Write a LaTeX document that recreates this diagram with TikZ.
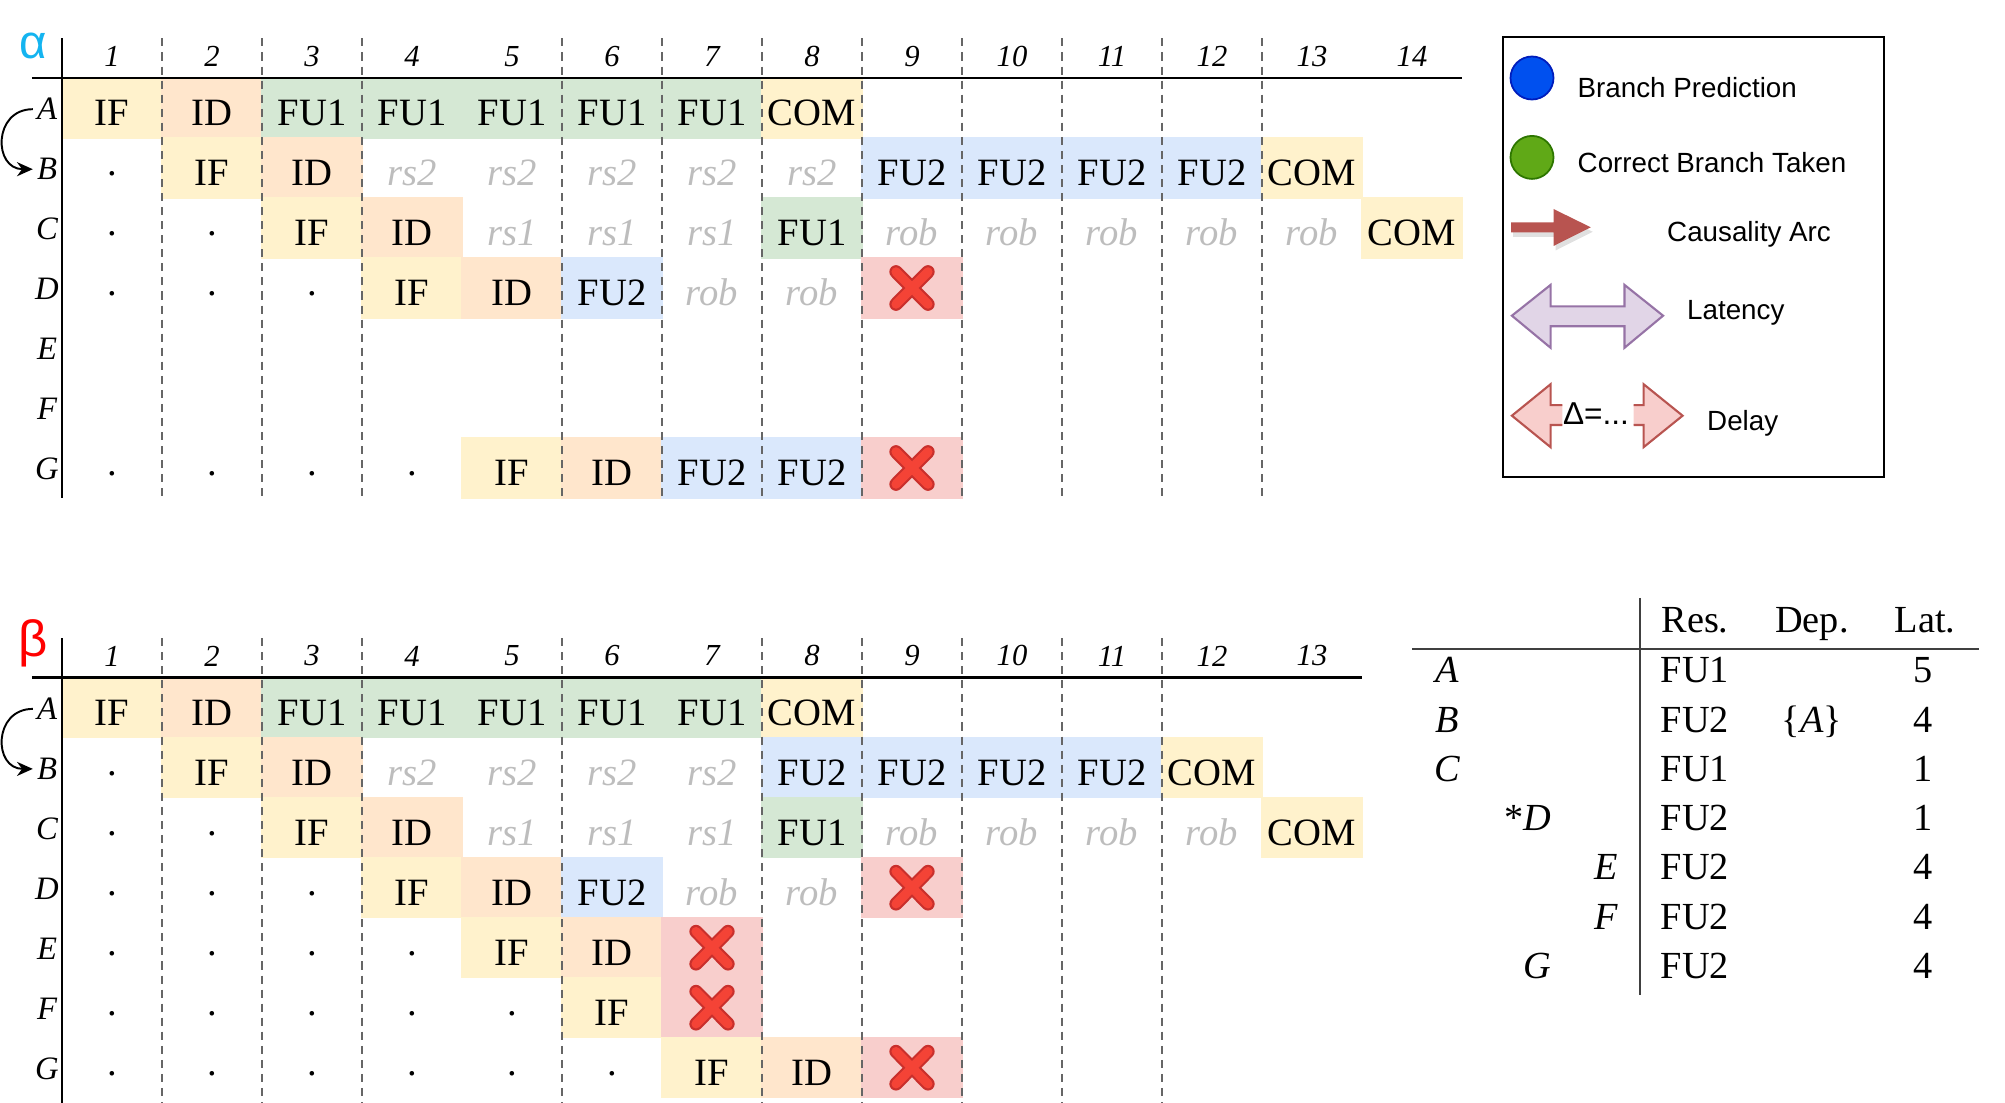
\documentclass[tikz,border=0pt]{standalone}
\usepackage{fontspec}
\setmainfont{Liberation Serif}
\setsansfont{Liberation Sans}
\usepackage{xcolor}
\usetikzlibrary{arrows.meta}

\definecolor{ifyellow}{HTML}{FFF2CC}
\definecolor{idorange}{HTML}{FFE6CC}
\definecolor{fugreen}{HTML}{D5E8D4}
\definecolor{fublue}{HTML}{DAE8FC}
\definecolor{xpink}{HTML}{F8CECC}
\definecolor{waitgrey}{HTML}{BDBDBD}
\definecolor{gridgrey}{HTML}{666666}
\definecolor{alphablue}{HTML}{14B4F0}
\definecolor{xred}{HTML}{F44336}
\definecolor{xdark}{HTML}{C9302C}
\definecolor{bpblue}{HTML}{0050EF}
\definecolor{bpedge}{HTML}{001DBC}
\definecolor{cbgreen}{HTML}{60A917}
\definecolor{cbedge}{HTML}{2D7600}
\definecolor{arcred}{HTML}{B85450}
\definecolor{latfill}{HTML}{E1D5E7}
\definecolor{latedge}{HTML}{9673A6}

\tikzset{
	cellbox/.style={minimum width=1cm, minimum height=0.6cm, inner sep=0pt, outer sep=0pt, text height=10pt, text depth=0pt, font=\fontsize{11}{13}\selectfont},
	fetch/.style={fill=ifyellow, draw=ifyellow},
	decode/.style={fill=idorange, draw=idorange},
	fuone/.style={fill=fugreen, draw=fugreen},
	futwo/.style={fill=fublue, draw=fublue},
	commit/.style={fill=ifyellow, draw=ifyellow},
	squash/.style={fill=xpink, draw=xpink},
	wait/.style={text=waitgrey, font=\fontsize{11}{13}\selectfont\itshape},
	idle/.style={text height=4.5pt},
	cyclenum/.style={font=\fontsize{8.7}{10}\selectfont\itshape},
	instr/.style={font=\fontsize{9.3}{11}\selectfont\itshape, inner sep=1pt},
	gridline/.style={gridgrey, line width=0.6pt, dash pattern=on 2.3pt off 1.7pt},
	axis/.style={line width=0.7pt},
	xout/.style={xdark, line width=3.8pt, line cap=round},
	xin/.style={xred, line width=2.6pt, line cap=round},
	causal/.style={-{Stealth[length=4.5pt,width=4pt]}, line width=0.55pt},
	legtext/.style={font=\sffamily\fontsize{7.9}{9.5}\selectfont, anchor=base west, inner sep=0pt},
	tabtext/.style={font=\fontsize{10.9}{13}\selectfont, anchor=base, inner sep=0pt},
	tabline/.style={line width=0.45pt, black!75},
}

\newcommand{\stagerow}[3]{%
	\foreach \c/\s/\t in {#3} {
		\node[cellbox, \s] (#1-\c) at (\c-0.5, #2-0.5) {\t};
	}
}
\newcommand{\squashmark}[1]{%
	\draw[xout] (#1.center) ++(-0.16,-0.27) -- ++(0.32,0.54) (#1.center) ++(0.16,-0.27) -- ++(-0.32,0.54);
	\draw[xin] (#1.center) ++(-0.16,-0.27) -- ++(0.32,0.54) (#1.center) ++(0.16,-0.27) -- ++(-0.32,0.54);
}

\begin{document}
\begin{tikzpicture}
	\useasboundingbox (0,0) rectangle (20.05,-11.03);

	% alpha
	\begin{scope}[shift={(0.62,-0.78)}, x=1cm, y=-0.6cm]
		\stagerow{a-A}{1}{1/fetch/IF, 2/decode/ID, 3/fuone/FU1, 4/fuone/FU1, 5/fuone/FU1, 6/fuone/FU1, 7/fuone/FU1, 8/commit/COM}
		\stagerow{a-B}{2}{1/idle/., 2/fetch/IF, 3/decode/ID, 4/wait/rs2, 5/wait/rs2, 6/wait/rs2, 7/wait/rs2, 8/wait/rs2, 9/futwo/FU2, 10/futwo/FU2, 11/futwo/FU2, 12/futwo/FU2, 13/commit/COM}
		\stagerow{a-C}{3}{1/idle/., 2/idle/., 3/fetch/IF, 4/decode/ID, 5/wait/rs1, 6/wait/rs1, 7/wait/rs1, 8/fuone/FU1, 9/wait/rob, 10/wait/rob, 11/wait/rob, 12/wait/rob, 13/wait/rob, 14/commit/COM}
		\stagerow{a-D}{4}{1/idle/., 2/idle/., 3/idle/., 4/fetch/IF, 5/decode/ID, 6/futwo/FU2, 7/wait/rob, 8/wait/rob, 9/squash/{}}
		\stagerow{a-G}{7}{1/idle/., 2/idle/., 3/idle/., 4/idle/., 5/fetch/IF, 6/decode/ID, 7/futwo/FU2, 8/futwo/FU2, 9/squash/{}}

		\foreach \k in {1,2,3,5,6,7,8,9,10,11,12} {
			\draw[gridline] (\k,-0.66) -- (\k,7);
		};
		\draw[axis] (0,-0.66) -- (0,7);
		\draw[axis] (-0.3,0) -- (14,0);

		\squashmark{a-D-9}
		\squashmark{a-G-9}

		\node[font=\sffamily\fontsize{13.5}{15}\selectfont, text=alphablue, inner sep=0pt] (a-sym) at (-0.29,-0.537) {α};
		\foreach \k in {1,...,14} {
			\node[cyclenum] (a-cyc-\k) at (\k-0.5,-0.362) {\k};
		};
		\foreach \r/\l in {1/A,2/B,3/C,4/D,5/E,6/F,7/G} {
			\node[instr] (a-lab-\l) at (-0.15,\r-0.48) {\l};
		};
		\draw[causal] (a-lab-A.west) to[out=180, in=180, looseness=1.7] (a-lab-B.west);
	\end{scope}

	% beta
	\begin{scope}[shift={(0.62,-6.777)}, x=1cm, y=-0.6cm]
		\stagerow{b-A}{1}{1/fetch/IF, 2/decode/ID, 3/fuone/FU1, 4/fuone/FU1, 5/fuone/FU1, 6/fuone/FU1, 7/fuone/FU1, 8/commit/COM}
		\stagerow{b-B}{2}{1/idle/., 2/fetch/IF, 3/decode/ID, 4/wait/rs2, 5/wait/rs2, 6/wait/rs2, 7/wait/rs2, 8/futwo/FU2, 9/futwo/FU2, 10/futwo/FU2, 11/futwo/FU2, 12/commit/COM}
		\stagerow{b-C}{3}{1/idle/., 2/idle/., 3/fetch/IF, 4/decode/ID, 5/wait/rs1, 6/wait/rs1, 7/wait/rs1, 8/fuone/FU1, 9/wait/rob, 10/wait/rob, 11/wait/rob, 12/wait/rob, 13/commit/COM}
		\stagerow{b-D}{4}{1/idle/., 2/idle/., 3/idle/., 4/fetch/IF, 5/decode/ID, 6/futwo/FU2, 7/wait/rob, 8/wait/rob, 9/squash/{}}
		\stagerow{b-E}{5}{1/idle/., 2/idle/., 3/idle/., 4/idle/., 5/fetch/IF, 6/decode/ID, 7/squash/{}}
		\stagerow{b-F}{6}{1/idle/., 2/idle/., 3/idle/., 4/idle/., 5/idle/., 6/fetch/IF, 7/squash/{}}
		\stagerow{b-G}{7}{1/idle/., 2/idle/., 3/idle/., 4/idle/., 5/idle/., 6/idle/., 7/fetch/IF, 8/decode/ID, 9/squash/{}}

		\foreach \k in {1,2,3,5,7,8,9,10,11} {
			\draw[gridline] (\k,-0.66) -- (\k,7.1);
		};
		\draw[axis] (0,-0.66) -- (0,7.1);
		\draw[axis] (-0.3,0) -- (13,0);

		\squashmark{b-D-9}
		\squashmark{b-E-7}
		\squashmark{b-F-7}
		\squashmark{b-G-9}

		\node[font=\sffamily\fontsize{14.5}{16}\selectfont, text=red, inner sep=0pt] (b-sym) at (-0.285,-0.573) {β};
		\foreach \k in {1,...,13} {
			\node[cyclenum] (b-cyc-\k) at (\k-0.5,-0.362) {\k};
		};
		\foreach \r/\l in {1/A,2/B,3/C,4/D,5/E,6/F,7/G} {
			\node[instr] (b-lab-\l) at (-0.15,\r-0.48) {\l};
		};
		\draw[causal] (b-lab-A.west) to[out=180, in=180, looseness=1.7] (b-lab-B.west);
	\end{scope}

	% legend
	\draw[line width=0.6pt] (15.03,-0.37) rectangle (18.84,-4.77);
	\node[circle, fill=bpblue, draw=bpedge, line width=0.5pt, minimum size=0.43cm, inner sep=0pt] (bp-dot) at (15.32,-0.78) {};
	\node[circle, fill=cbgreen, draw=cbedge, line width=0.5pt, minimum size=0.43cm, inner sep=0pt] (cb-dot) at (15.32,-1.574) {};
	\fill[arcred, preaction={fill=black, opacity=0.12, transform canvas={shift={(0.02,-0.045)}}}] (15.11,-2.223) -- (15.535,-2.223) -- (15.535,-2.09) -- (15.908,-2.273) -- (15.535,-2.46) -- (15.535,-2.323) -- (15.11,-2.323) -- cycle;
	\filldraw[fill=latfill, draw=latedge, line width=0.6pt] (15.119,-3.157) -- (15.506,-2.849) -- (15.506,-3.064) -- (16.245,-3.064) -- (16.245,-2.849) -- (16.631,-3.157) -- (16.245,-3.478) -- (16.245,-3.263) -- (15.506,-3.263) -- (15.506,-3.478) -- cycle;
	\path[fill=xpink, draw=arcred, line width=0.6pt] (15.623,-4.051) -- (15.506,-4.051) -- (15.506,-3.842) -- (15.119,-4.157) -- (15.506,-4.472) -- (15.506,-4.25) -- (15.623,-4.25);
	\path[fill=xpink, draw=arcred, line width=0.6pt] (16.336,-4.051) -- (16.436,-4.051) -- (16.436,-3.842) -- (16.826,-4.157) -- (16.436,-4.472) -- (16.436,-4.25) -- (16.336,-4.25);

	\node[legtext] (bp-text) at (15.77,-0.978) {Branch Prediction};
	\node[legtext] (cb-text) at (15.77,-1.73) {Correct Branch Taken};
	\node[legtext] (arc-text) at (16.665,-2.412) {Causality Arc};
	\node[legtext] (lat-text) at (16.865,-3.197) {Latency};
	\node[legtext, font=\sffamily\fontsize{9}{10}\selectfont] (del-val) at (15.623,-4.246) {Δ=...};
	\node[legtext] (del-text) at (17.065,-4.306) {Delay};

	% instruction table
	\draw[tabline] (16.40,-5.98) -- (16.40,-9.95);
	\draw[tabline] (14.12,-6.49) -- (19.79,-6.49);
	\node[tabtext] (hd-res) at (16.95,-6.33) {Res.};
	\node[tabtext] (hd-dep) at (18.12,-6.33) {Dep.};
	\node[tabtext] (hd-lat) at (19.25,-6.33) {Lat.};
	\foreach \n/\x/\y/\lab/\res/\lat in {A/14.47/6.827/A/FU1/5, B/14.47/7.32/B/FU2/4, C/14.47/7.813/C/FU1/1, D/15.28/8.306/\textup{*}D/FU2/1, E/16.06/8.799/E/FU2/4, F/16.06/9.292/F/FU2/4, G/15.37/9.785/G/FU2/4} {
		\node[tabtext, font=\fontsize{10.9}{13}\selectfont\itshape] (tb-\n) at (\x,-\y) {\lab};
		\node[tabtext] (tb-\n-res) at (16.95,-\y) {\res};
		\node[tabtext] (tb-\n-lat) at (19.23,-\y) {\lat};
	};
	\node[tabtext] (tb-B-dep) at (18.12,-7.32) {\{\textit{A}\}};
\end{tikzpicture}
\end{document}
